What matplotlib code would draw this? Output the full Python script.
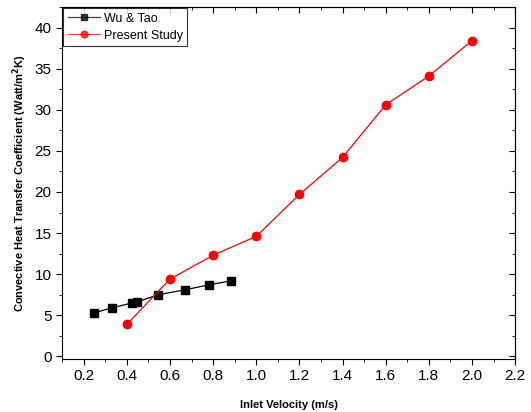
import matplotlib.pyplot as plt
from matplotlib.ticker import MultipleLocator

plt.rcParams['font.family'] = ['Liberation Sans', 'DejaVu Sans']

# data
wu_x = [0.25, 0.33, 0.425, 0.445, 0.545, 0.67, 0.78, 0.885]
wu_y = [5.3, 5.9, 6.5, 6.6, 7.5, 8.1, 8.7, 9.2]
present_x = [0.4, 0.6, 0.8, 1.0, 1.2, 1.4, 1.6, 1.8, 2.0]
present_y = [3.9, 9.4, 12.3, 14.6, 19.7, 24.2, 30.6, 34.1, 38.4]

fig = plt.figure(figsize=(5.31, 4.12), dpi=100)
ax = fig.add_axes([0.117, 0.129, 0.853, 0.854])

ax.plot(wu_x, wu_y, color='black', marker='s', markersize=5.5, linewidth=0.9, label='Wu & Tao')
ax.plot(present_x, present_y, color='red', marker='o', markersize=6, linewidth=0.9, label='Present Study')

ax.set_xlim(0.1, 2.2)
ax.set_ylim(-0.3, 42.5)
ax.xaxis.set_minor_locator(MultipleLocator(0.1))
ax.yaxis.set_major_locator(MultipleLocator(5))
ax.yaxis.set_minor_locator(MultipleLocator(2.5))
ax.set_xticks([0.2, 0.4, 0.6, 0.8, 1.0, 1.2, 1.4, 1.6, 1.8, 2.0, 2.2])
ax.set_xticklabels(['0.2', '0.4', '0.6', '0.8', '1.0', '1.2', '1.4', '1.6', '1.8', '2.0', '2.2'])

ax.tick_params(which='both', direction='out', labelsize=11)
ax.tick_params(which='major', length=4)
ax.tick_params(which='minor', length=2.5)

# mirrored inward ticks on top and right
top = ax.secondary_xaxis('top')
top.set_xticks([0.2, 0.4, 0.6, 0.8, 1.0, 1.2, 1.4, 1.6, 1.8, 2.0, 2.2])
top.xaxis.set_minor_locator(MultipleLocator(0.1))
top.tick_params(which='both', direction='in', labeltop=False)
top.tick_params(which='major', length=4)
top.tick_params(which='minor', length=2.5)
right = ax.secondary_yaxis('right')
right.yaxis.set_major_locator(MultipleLocator(5))
right.yaxis.set_minor_locator(MultipleLocator(2.5))
right.tick_params(which='both', direction='in', labelright=False)
right.tick_params(which='major', length=4)
right.tick_params(which='minor', length=2.5)

ax.set_xlabel('Inlet Velocity (m/s)', fontsize=8, fontweight='bold', labelpad=12)
ax.set_ylabel('Convective Heat Transfer Coefficient (Watt/m$^\\mathbf{2}$K)', fontsize=8, fontweight='bold',
              labelpad=4)

leg = ax.legend(loc='upper left', fontsize=9, frameon=True, fancybox=False, edgecolor='black',
                borderaxespad=0.1, handlelength=2.6, borderpad=0.35, labelspacing=0.4, handletextpad=0.3,
                markerscale=0.8)
leg.get_frame().set_linewidth(0.8)
for line in leg.get_lines():
    line.set_alpha(0.75)

fig.savefig('out.png', dpi=100)
